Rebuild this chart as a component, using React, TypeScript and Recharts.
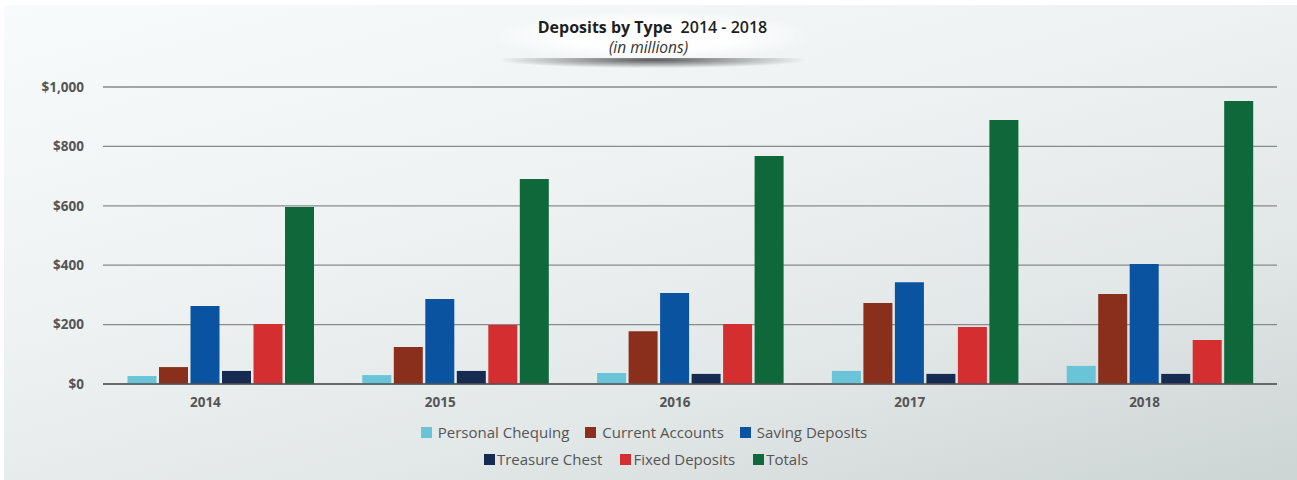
import { BarChart, Bar, XAxis, YAxis, CartesianGrid } from "recharts";

const years = ["2014", "2015", "2016", "2017", "2018"];
const personalChequing = [27, 30, 37, 44, 61];
const currentAccounts = [57, 125, 178, 273, 303];
const savingDeposits = [263, 286, 306, 343, 404];
const treasureChest = [44, 44, 34, 34, 34];
const fixedDeposits = [202, 199, 202, 192, 148];
const totals = [596, 690, 768, 889, 953];
const yTicks = [0, 200, 400, 600, 800, 1000];

const series = [
  { key: "pc", name: "Personal Chequing", color: "#6ac4d7", values: personalChequing },
  { key: "ca", name: "Current Accounts", color: "#8a2f1c", values: currentAccounts },
  { key: "sd", name: "Saving DeposIts", color: "#0a53a0", values: savingDeposits },
  { key: "tc", name: "Treasure Chest", color: "#162a52", values: treasureChest },
  { key: "fd", name: "Fixed Deposits", color: "#d42e30", values: fixedDeposits },
  { key: "tot", name: "Totals", color: "#0e6839", values: totals },
];

const data = years.map((year, i) => {
  const row: Record<string, string | number> = { year };
  series.forEach((s) => {
    row[s.key] = s.values[i];
  });
  return row;
});

const font = "'Open Sans', 'Noto Sans', sans-serif";

const fmtMoney = (v: number) => "$" + v.toLocaleString("en-US");

const XTick = (props: any) => {
  const { x, y, payload } = props;
  return (
    <text
      x={x - 15}
      y={y + 15}
      textAnchor="middle"
      fill="#555"
      fontSize={13.5}
      fontWeight={700}
      fontFamily={font}
    >
      {payload.value}
    </text>
  );
};

const LegendItem = ({ name, color, gap }: { name: string; color: string; gap: number }) => (
  <div style={{ display: "flex", alignItems: "center" }}>
    <span
      style={{ display: "inline-block", width: 11, height: 11, background: color, marginRight: gap }}
    />
    <span>{name}</span>
  </div>
);

const App = () => {
  return (
    <div
      style={{
        position: "relative",
        width: 1297,
        height: 480,
        background: "#fff",
        fontFamily: font,
        overflow: "hidden",
      }}
    >
      <style>{`body{margin:0}`}</style>
      <div
        style={{
          position: "absolute",
          left: 4,
          top: 5,
          width: 1293,
          height: 475,
          background: "linear-gradient(165deg, #f8fbfc 0%, #eef2f3 40%, #e2e7e8 70%, #cdd4d4 100%)",
        }}
      />
      {/* title box */}
      <div
        style={{
          position: "absolute",
          left: 500,
          top: 12,
          width: 305,
          height: 48,
          background: "radial-gradient(ellipse at center, rgba(255,255,255,0.95) 40%, rgba(255,255,255,0) 75%)",
        }}
      />
      <div
        style={{
          position: "absolute",
          left: 500,
          top: 58,
          width: 305,
          height: 10,
          background: "radial-gradient(ellipse at 50% 20%, rgba(40,40,40,0.75) 0%, rgba(80,80,80,0.35) 45%, rgba(120,120,120,0) 72%)",
        }}
      />
      <div
        style={{
          position: "absolute",
          left: 0,
          top: 17,
          width: 1297,
          textAlign: "center",
          fontSize: 16,
          color: "#1e1e1e",
          lineHeight: "20px",
          paddingLeft: 4,
        }}
      >
        <span style={{ fontWeight: 700 }}>Deposits by Type</span>
        <span style={{ fontWeight: 600 }}>{"\u00a0 2014 - 2018"}</span>
      </div>
      <div
        style={{
          position: "absolute",
          left: 0,
          top: 37,
          width: 1297,
          textAlign: "center",
          fontSize: 15.5,
          fontStyle: "italic",
          color: "#333",
          lineHeight: "20px",
        }}
      >
        (in millions)
      </div>

      <div style={{ position: "absolute", left: 0, top: 0 }}>
        <BarChart
          width={1297}
          height={480}
          data={data}
          margin={{ top: 87, right: 20, bottom: 66, left: 19 }}
          barCategoryGap={24.5}
          barGap={2.5}
        >
          <CartesianGrid vertical={false} stroke="#8a8a8a" strokeWidth={1.3} />
          <XAxis
            dataKey="year"
            tick={<XTick />}
            tickLine={false}
            axisLine={{ stroke: "#555", strokeWidth: 1.5 }}
            height={30}
            interval={0}
          />
          <YAxis
            domain={[0, 1000]}
            ticks={yTicks}
            tickFormatter={fmtMoney}
            tickLine={false}
            axisLine={false}
            width={84}
            tickMargin={13}
            tick={{ fill: "#555", fontSize: 13.5, fontWeight: 700, fontFamily: font }}
          />
          {series.map((s) => (
            <Bar key={s.key} dataKey={s.key} name={s.name} fill={s.color} isAnimationActive={false} />
          ))}
        </BarChart>
      </div>

      <div
        style={{
          position: "absolute",
          left: 0,
          top: 420,
          width: 1297,
          fontSize: 15,
          color: "#555",
          lineHeight: "24px",
        }}
      >
        <div style={{ display: "flex", justifyContent: "center", gap: 16, paddingRight: 9 }}>
          {series.slice(0, 3).map((s) => (
            <LegendItem key={s.key} name={s.name} color={s.color} gap={6} />
          ))}
        </div>
        <div style={{ display: "flex", justifyContent: "center", gap: 18, marginTop: 3, paddingRight: 5 }}>
          {series.slice(3).map((s) => (
            <LegendItem key={s.key} name={s.name} color={s.color} gap={2} />
          ))}
        </div>
      </div>
    </div>
  );
};

export default App;
